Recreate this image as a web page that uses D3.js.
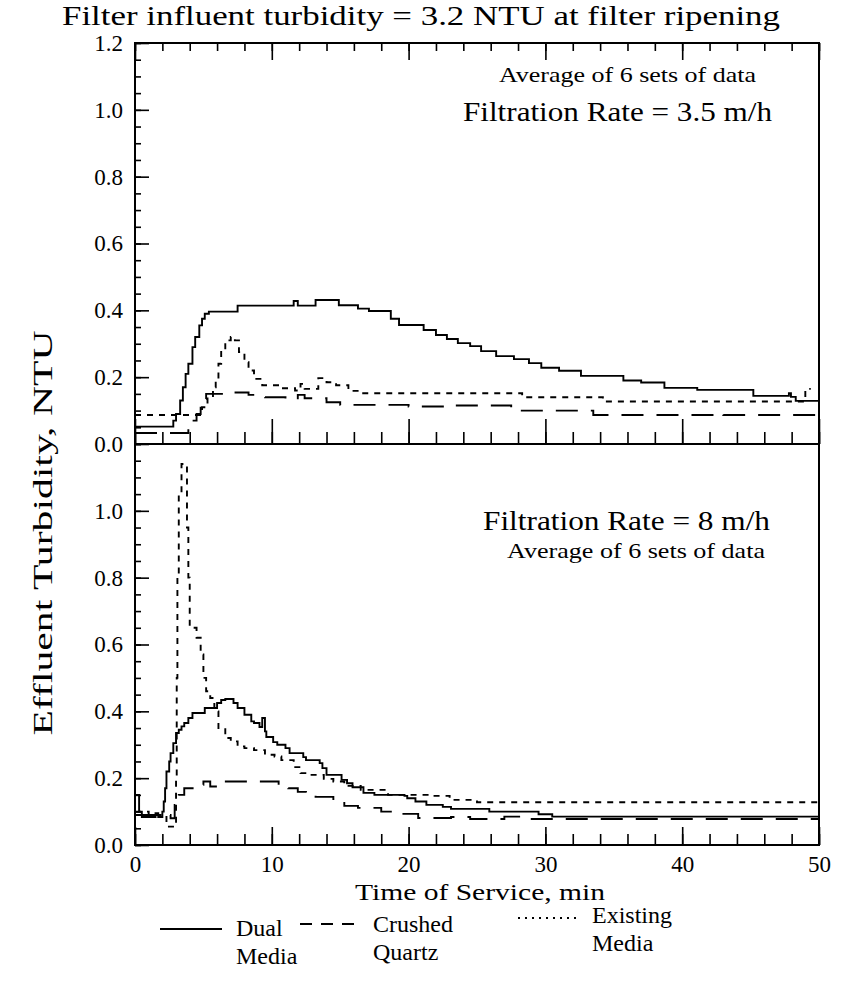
<!DOCTYPE html>
<html><head><meta charset="utf-8">
<script src="https://cdn.jsdelivr.net/npm/d3@7"></script>
<style>
body{margin:0;background:#fff}
text{font-family:"Liberation Serif","Times New Roman",serif;fill:#000}
</style>
</head><body>
<svg id="c" width="849" height="994"></svg>
<script>
// ---------- data ----------
const timeTicks = [0, 10, 20, 30, 40, 50];
const turbTicksTop = [0, 0.2, 0.4, 0.6, 0.8, 1.0, 1.2];
const turbTicksBottom = [0, 0.2, 0.4, 0.6, 0.8, 1.0];
const seriesNames = ["Dual Media", "Crushed Quartz", "Existing Media"];
const panelLabels = ["Filtration Rate = 3.5 m/h", "Filtration Rate = 8 m/h"];

// Filtration rate 3.5 m/h : [time (min), turbidity (NTU)]
const dualMedia35 = [[0,0.052],[2.8,0.07],[3.0,0.09],[3.3,0.13],[3.5,0.17],[3.7,0.21],[3.9,0.24],[4.2,0.29],[4.4,0.32],[4.7,0.355],[4.9,0.375],[5.1,0.39],[5.4,0.396],[7.5,0.414],[11.6,0.428],[11.9,0.414],[13.2,0.431],[14.9,0.415],[16.3,0.405],[17.1,0.398],[18.7,0.375],[19.3,0.356],[21.1,0.341],[22.0,0.326],[22.8,0.314],[23.6,0.302],[24.5,0.293],[25.3,0.278],[26.4,0.263],[27.7,0.254],[28.8,0.242],[29.7,0.228],[31.0,0.219],[32.6,0.204],[35.7,0.19],[37.0,0.184],[38.7,0.168],[41.1,0.162],[45.2,0.144],[47.8,0.152],[47.95,0.141],[48.3,0.129],[50,0.129]];
const crushedQuartz35 = [[0,0.033],[3.9,0.05],[4.2,0.07],[4.5,0.09],[4.8,0.115],[5.0,0.135],[5.2,0.15],[6.9,0.154],[8.3,0.147],[9.5,0.14],[11.0,0.134],[11.9,0.147],[12.4,0.137],[14.0,0.125],[15.0,0.117],[20.0,0.112],[22.8,0.115],[27.5,0.10],[33.5,0.087],[42.7,0.092],[43.0,0.087],[50,0.087]];
const existingMedia35 = [[0,0.087],[4.5,0.087],[4.9,0.11],[5.3,0.14],[5.7,0.17],[5.9,0.19],[6.1,0.24],[6.3,0.28],[6.6,0.31],[7.0,0.32],[7.3,0.31],[7.6,0.275],[8.0,0.245],[8.3,0.22],[8.7,0.195],[9.3,0.176],[10.7,0.167],[11.7,0.16],[12.1,0.18],[12.4,0.165],[13.4,0.197],[14.0,0.185],[14.7,0.176],[15.6,0.159],[16.5,0.152],[27.8,0.152],[28.3,0.14],[34.2,0.127],[48.8,0.127],[49.0,0.165],[49.4,0.165]];

// Filtration rate 8 m/h
const dualMedia8 = [[0,0.15],[0.3,0.1],[0.5,0.084],[1.5,0.095],[1.7,0.084],[2.0,0.1],[2.1,0.13],[2.2,0.17],[2.3,0.22],[2.5,0.25],[2.6,0.275],[2.8,0.305],[3.0,0.335],[3.2,0.345],[3.4,0.355],[3.6,0.365],[3.9,0.38],[4.2,0.395],[5.1,0.41],[6.0,0.425],[6.3,0.434],[6.6,0.437],[7.2,0.425],[7.5,0.41],[8.0,0.39],[8.5,0.37],[8.7,0.365],[9.1,0.353],[9.3,0.38],[9.5,0.34],[9.6,0.323],[10.1,0.308],[10.4,0.3],[11.0,0.29],[11.3,0.275],[12.3,0.263],[12.5,0.254],[13.5,0.245],[13.7,0.23],[14.0,0.21],[15.1,0.195],[15.5,0.185],[15.9,0.173],[16.7,0.156],[17.5,0.15],[19.7,0.147],[19.9,0.14],[20.5,0.13],[21.3,0.12],[22.5,0.114],[23.1,0.108],[25.9,0.1],[29.5,0.092],[30.5,0.085],[50,0.085]];
const crushedQuartz8 = [[0,0.09],[2.6,0.08],[2.9,0.12],[3.2,0.15],[3.6,0.17],[4.6,0.18],[5.0,0.19],[5.5,0.175],[6.5,0.19],[9.2,0.19],[10.5,0.18],[11.2,0.17],[11.9,0.159],[12.5,0.15],[13.2,0.144],[14.5,0.13],[15.3,0.117],[16.3,0.111],[18.0,0.10],[19.2,0.093],[20.7,0.081],[23.1,0.084],[24.5,0.078],[27.0,0.085],[28.5,0.078],[50,0.078]];
const existingMedia8 = [[0,0.10],[1.0,0.09],[2.3,0.055],[2.9,0.06],[3.0,0.2],[3.05,0.5],[3.1,0.8],[3.2,1.05],[3.4,1.14],[3.7,1.14],[3.8,0.95],[3.9,0.8],[4.0,0.65],[4.5,0.62],[4.8,0.57],[5.0,0.5],[5.2,0.46],[5.5,0.44],[5.8,0.40],[6.1,0.35],[6.6,0.32],[7.0,0.31],[7.5,0.295],[8.0,0.29],[8.7,0.284],[9.5,0.27],[10.2,0.265],[10.7,0.254],[11.6,0.233],[12.1,0.215],[12.7,0.21],[13.8,0.198],[14.5,0.19],[15.3,0.177],[16.5,0.165],[18.5,0.15],[21.5,0.147],[23.0,0.135],[25.0,0.128],[50,0.125]];

// ---------- drawing ----------
const svg = d3.select("#c");
const dashes = ["none", "22,13", "6,6"];
const x = d3.scaleLinear().domain([0, 50]).range([135, 819]);
const yTop = d3.scaleLinear().domain([0, 1.2]).range([444, 43]);
const yBot = d3.scaleLinear().domain([0, 1.2]).range([845, 444]);
const minorX = d3.range(0, 51, 2);
const minorY = d3.range(0, 1.2001, 0.05);

function styleAxis(g) {
  g.selectAll("path.domain").remove();
  g.selectAll("line").attr("stroke", "#000").attr("stroke-width", 1.6);
  g.selectAll("text").attr("fill", "#000").style("font-family", '"Liberation Serif",serif');
}

function panel(y, data, showTopTicks, yTicks, xLabels, majorUp, minorUp) {
  svg.append("rect").attr("x", x(0)).attr("y", y(1.2))
    .attr("width", x(50) - x(0)).attr("height", y(0) - y(1.2))
    .attr("fill", "none").attr("stroke", "#000").attr("stroke-width", 2);
  svg.append("g").attr("transform", `translate(${x(0)},0)`)
    .call(d3.axisLeft(y).tickValues(minorY).tickSize(-6).tickFormat("").tickSizeOuter(0)).call(styleAxis);
  svg.append("g").attr("transform", `translate(${x(0)},0)`)
    .call(d3.axisLeft(y).tickValues(yTicks).tickSize(-14).tickPadding(12).tickSizeOuter(0).tickFormat(d3.format(".1f")))
    .call(styleAxis).selectAll("text").style("font-size", "23px");
  svg.append("g").attr("transform", `translate(0,${y(0)})`)
    .call(d3.axisBottom(x).tickValues(minorX).tickSize(-minorUp).tickFormat("").tickSizeOuter(0)).call(styleAxis);
  const xb = svg.append("g").attr("transform", `translate(0,${y(0)})`)
    .call(d3.axisBottom(x).tickValues(timeTicks).tickSize(-majorUp).tickPadding(11).tickSizeOuter(0)
      .tickFormat(xLabels ? d3.format("d") : ""))
    .call(styleAxis);
  xb.selectAll("text").style("font-size", "23px");
  if (showTopTicks) {
    svg.append("g").attr("transform", `translate(0,${y(1.2)})`)
      .call(d3.axisTop(x).tickValues(minorX).tickSize(-8).tickFormat("").tickSizeOuter(0)).call(styleAxis);
    svg.append("g").attr("transform", `translate(0,${y(1.2)})`)
      .call(d3.axisTop(x).tickValues(timeTicks).tickSize(-17).tickFormat("").tickSizeOuter(0)).call(styleAxis);
  }
  const line = d3.line().x(d => x(d[0])).y(d => y(d[1])).curve(d3.curveStepAfter);
  data.forEach((s, i) => {
    svg.append("path").datum(s).attr("d", line)
      .attr("fill", "none").attr("stroke", "#000").attr("stroke-width", 1.9)
      .attr("stroke-dasharray", dashes[i]);
  });
}

panel(yTop, [dualMedia35, crushedQuartz35, existingMedia35], true, turbTicksTop, false, 25, 12);
panel(yBot, [dualMedia8, crushedQuartz8, existingMedia8], false, turbTicksBottom, true, 18, 11);

// texts (the original typeface is wide: fit each to its measured width)
function txt(xp, yp, size, len, s, anchor) {
  return svg.append("text").attr("x", xp).attr("y", yp)
    .attr("text-anchor", anchor || "start").style("font-size", size + "px")
    .attr("textLength", len).attr("lengthAdjust", "spacingAndGlyphs").text(s);
}
txt(62, 25, 27, 718, "Filter influent turbidity = 3.2 NTU at filter ripening");
txt(499, 82, 21, 257, "Average of 6 sets of data");
txt(463, 121, 28, 309, panelLabels[0]);
txt(483, 530, 28, 287, panelLabels[1]);
txt(507, 558, 21, 258, "Average of 6 sets of data");

svg.append("text").attr("transform", "translate(52,533) rotate(-90)").attr("text-anchor", "middle")
  .style("font-size", "28px").attr("textLength", 405).attr("lengthAdjust", "spacingAndGlyphs")
  .text("Effluent Turbidity, NTU");
txt(355, 900, 24, 250, "Time of Service, min");

// legend
const legend = [
  {x1: 160, x2: 222, ly: 929, tx: 236, l1: "Dual", y1: 936, l2: "Media", y2: 964, dash: "none"},
  {x1: 300, x2: 358, ly: 924, tx: 373, l1: "Crushed", y1: 932, l2: "Quartz", y2: 960, dash: "12,9"},
  {x1: 518, x2: 578, ly: 918, tx: 592, l1: "Existing", y1: 923, l2: "Media", y2: 951, dash: "2,5"}
];
legend.forEach((d, i) => {
  svg.append("line").attr("x1", d.x1).attr("x2", d.x2).attr("y1", d.ly).attr("y2", d.ly)
    .attr("stroke", "#000").attr("stroke-width", 1.8).attr("stroke-dasharray", d.dash);
  svg.append("text").attr("x", d.tx).attr("y", d.y1).style("font-size", "24px").text(d.l1);
  svg.append("text").attr("x", d.tx).attr("y", d.y2).style("font-size", "24px").text(d.l2);
});
</script>
</body></html>
